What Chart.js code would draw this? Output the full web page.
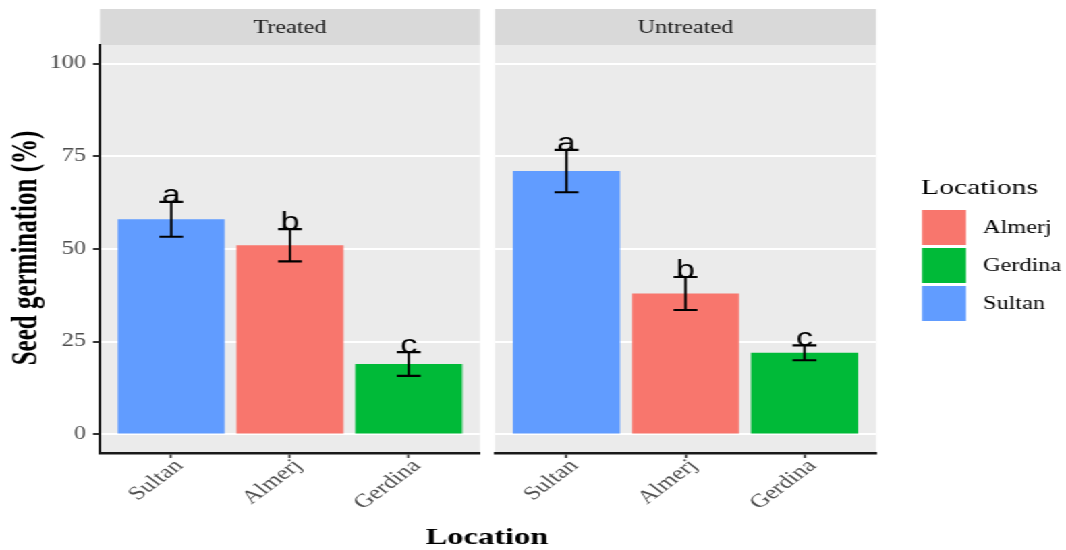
<!DOCTYPE html>
<html>
<head>
<meta charset="utf-8">
<script src="https://cdn.jsdelivr.net/npm/chart.js@4/dist/chart.umd.min.js"></script>
<style>
  html, body { margin: 0; padding: 0; background: #ffffff; overflow: hidden; }
  #wrap { position: absolute; left: 0; top: 0; width: 790px; height: 550px;
          transform-origin: 0 0; }
  #wrap canvas { position: absolute; left: 0; top: 0; }
</style>
</head>
<body>
<div id="wrap">
  <canvas id="treated" width="790" height="550"></canvas>
  <canvas id="untreated" width="790" height="550"></canvas>
</div>
<script>
// ---- data ----
const categories = ['Sultan', 'Almerj', 'Gerdina'];
const treatedMeans = [58, 51, 19];
const treatedErr = [4.7, 4.35, 3.2];
const treatedLetters = ['a', 'b', 'c'];
const untreatedMeans = [71, 38, 22];
const untreatedErr = [5.7, 4.45, 2];
const untreatedLetters = ['a', 'b', 'c'];
const yTicks = [0, 25, 50, 75, 100];
const legendOrder = ['Almerj', 'Gerdina', 'Sultan'];
const colorOf = { Sultan: '#619CFF', Almerj: '#F8766D', Gerdina: '#00BA38' };

// ---- layout: the page is drawn on a narrower canvas and stretched horizontally ----
const W = 790, H = 550;
const S = 1066 / W;
document.getElementById('wrap').style.transform = 'scaleX(' + S + ')';
const cx = X => X / S;

const SERIF = '"Liberation Serif", "Times New Roman", serif';
const SANS = '"Liberation Sans", Arial, sans-serif';

// panel background + facet strip
const panelPlugin = {
  id: 'panel',
  beforeDraw(chart, args, opts) {
    const { ctx, chartArea: a } = chart;
    ctx.save();
    ctx.fillStyle = '#EBEBEB';
    ctx.fillRect(a.left, a.top, a.right - a.left, a.bottom - a.top);
    ctx.fillStyle = '#D9D9D9';
    ctx.fillRect(a.left, 9, a.right - a.left, 36);
    ctx.fillStyle = '#1A1A1A';
    ctx.font = '18px ' + SERIF;
    ctx.textAlign = 'center';
    ctx.textBaseline = 'middle';
    ctx.fillText(opts.strip, (a.left + a.right) / 2, 28);
    ctx.restore();
  }
};

// significance letters and error bars
const errPlugin = {
  id: 'errbars',
  afterDatasetsDraw(chart, args, opts) {
    const { ctx, scales: { x, y } } = chart;
    const capHalf = x.getPixelForValue(1.1) - x.getPixelForValue(1);
    ctx.save();
    // letters first so the caps sit on top of them
    ctx.fillStyle = '#000';
    ctx.font = '25px ' + SANS;
    ctx.textAlign = 'center';
    ctx.textBaseline = 'alphabetic';
    opts.means.forEach((m, i) => {
      const px = x.getPixelForValue(i + 1);
      ctx.fillText(opts.letters[i], px, y.getPixelForValue(m + opts.err[i]) + 1);
    });
    ctx.strokeStyle = '#000';
    opts.means.forEach((m, i) => {
      const px = x.getPixelForValue(i + 1);
      const top = y.getPixelForValue(m + opts.err[i]);
      const bot = y.getPixelForValue(m - opts.err[i]);
      ctx.lineWidth = 2.4 / S;
      ctx.beginPath();
      ctx.moveTo(px, top); ctx.lineTo(px, bot);
      ctx.stroke();
      ctx.lineWidth = 2.2;
      ctx.beginPath();
      ctx.moveTo(px - capHalf, top); ctx.lineTo(px + capHalf, top);
      ctx.moveTo(px - capHalf, bot); ctx.lineTo(px + capHalf, bot);
      ctx.stroke();
    });
    ctx.restore();
  }
};

// axis titles
const titlePlugin = {
  id: 'titles',
  afterDraw(chart) {
    const { ctx } = chart;
    ctx.save();
    ctx.fillStyle = '#000';
    ctx.font = 'bold 25px ' + SERIF;
    ctx.textAlign = 'center';
    ctx.textBaseline = 'alphabetic';
    ctx.translate(cx(37), 248);
    ctx.rotate(-Math.PI / 2);
    ctx.scale(1, 1.12);
    ctx.fillText('Seed germination (%)', 0, 0);
    ctx.restore();
    ctx.save();
    ctx.fillStyle = '#000';
    ctx.font = 'bold 24px ' + SERIF;
    ctx.textAlign = 'center';
    ctx.textBaseline = 'alphabetic';
    ctx.fillText('Location', cx(487), 544);
    ctx.restore();
  }
};

// fill legend
const legendPlugin = {
  id: 'fillLegend',
  afterDraw(chart) {
    const { ctx } = chart;
    ctx.save();
    ctx.fillStyle = '#000';
    ctx.font = '22px ' + SERIF;
    ctx.textAlign = 'left';
    ctx.textBaseline = 'alphabetic';
    ctx.fillText('Locations', cx(921), 194);
    ctx.font = '18px ' + SERIF;
    ctx.textBaseline = 'middle';
    legendOrder.forEach((name, i) => {
      const top = 210 + i * 38;
      ctx.fillStyle = colorOf[name];
      ctx.fillRect(cx(922), top, cx(966) - cx(922), 35);
      ctx.fillStyle = '#000';
      ctx.fillText(name, cx(983), top + 18.5);
    });
    ctx.restore();
  }
};

function panelChart(id, strip, means, err, letters, left, right, showY) {
  const data = {
    datasets: [{
      data: means.map((v, i) => ({ x: i + 1, y: v })),
      backgroundColor: categories.map(c => colorOf[c]),
      borderWidth: 0,
      barPercentage: 0.9,
      categoryPercentage: 1
    }]
  };
  const yScale = {
    min: -5, max: 105,
    afterBuildTicks: s => { s.ticks = yTicks.map(v => ({ value: v })); },
    afterFit: s => { s.width = showY ? cx(left) : 0; },
    grid: { color: '#FFFFFF', lineWidth: 2, drawTicks: showY, tickLength: cx(7),
            tickColor: '#333333', tickWidth: 2 },
    border: { display: showY, color: '#1A1A1A', width: 2 },
    ticks: { display: showY, color: '#4D4D4D', padding: cx(7),
             font: { family: SERIF, size: 18 } }
  };
  return new Chart(document.getElementById(id), {
    type: 'bar',
    data,
    options: {
      responsive: false,
      animation: false,
      devicePixelRatio: 1,
      layout: { padding: { left: showY ? 0 : cx(left), right: W - cx(right), top: 45, bottom: 0 } },
      plugins: {
        legend: { display: false },
        tooltip: { enabled: false },
        panel: { strip },
        errbars: { means, err, letters }
      },
      scales: {
        x: {
          type: 'linear', min: 0.4, max: 3.6, offset: false,
          afterBuildTicks: s => { s.ticks = categories.map((c, i) => ({ value: i + 1 })); },
          afterFit: s => { s.height = H - 453; },
          grid: { display: true, offset: false, drawOnChartArea: false, drawTicks: true,
                  tickLength: 5, tickColor: '#333333', tickWidth: 1.6 },
          border: { display: true, color: '#1A1A1A', width: 2.5 },
          ticks: {
            autoSkip: false, minRotation: 45, maxRotation: 45, padding: -3,
            labelOffset: cx(8),
            color: '#4D4D4D', font: { family: SERIF, size: 19 },
            callback: v => categories[v - 1]
          }
        },
        y: yScale
      }
    },
    plugins: showY ? [panelPlugin, errPlugin, titlePlugin] : [panelPlugin, errPlugin, legendPlugin]
  });
}

panelChart('treated', 'Treated', treatedMeans, treatedErr, treatedLetters, 100, 480, true);
panelChart('untreated', 'Untreated', untreatedMeans, untreatedErr, untreatedLetters, 495, 876, false);
</script>
</body>
</html>
